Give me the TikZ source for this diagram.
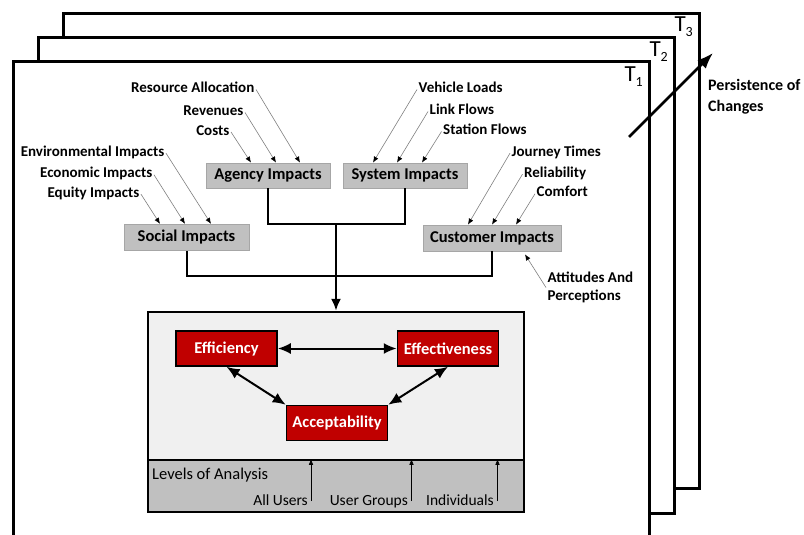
\documentclass[tikz,border=0pt]{standalone}
\usepackage{fontspec}
\setmainfont{Carlito}
\usetikzlibrary{arrows.meta,calc}
\definecolor{boxgray}{HTML}{C0C0C0}
\definecolor{boxedge}{HTML}{A6A6A6}
\definecolor{lightbg}{HTML}{F0F0F0}
\definecolor{levelgray}{HTML}{C0C0C0}
\definecolor{darkred}{HTML}{C00000}
\definecolor{thinline}{HTML}{808080}
\begin{document}
\begin{tikzpicture}[x=1pt,y=-1pt,
  frame/.style={draw=black,line width=3pt,fill=white,inner sep=0pt,anchor=north west},
  tlab/.style={anchor=base east,inner sep=0pt,font=\fontsize{23}{23}\selectfont},
  impact/.style={draw=boxedge,line width=0.8pt,fill=boxgray,inner sep=0pt,
    font=\fontsize{16.5}{18}\selectfont\bfseries},
  inlabel/.style={inner sep=1.5pt,text height=0.62em,text depth=0pt,yshift=-1.5pt,
    font=\fontsize{15}{17}\selectfont\bfseries},
  inarrow/.style={draw=thinline,line width=0.6pt,-{Latex[length=6pt,width=5pt,color=black]}},
  conn/.style={draw=black,line width=2pt},
  redbox/.style={draw=black,line width=1.5pt,fill=darkred,text=white,inner sep=0pt,
    minimum width=101pt,minimum height=35pt,font=\fontsize{16.5}{18}\selectfont\bfseries},
  dbl/.style={line width=2pt,{Latex[length=13pt,width=11pt]}-{Latex[length=13pt,width=11pt]}},
  levlabel/.style={anchor=base east,inner sep=0pt,font=\fontsize{15.5}{17}\selectfont},
  levarrow/.style={draw=black,line width=0.7pt,-{Latex[length=6pt,width=4.5pt]}}
]
\useasboundingbox (0,0) rectangle (804,535);
\clip (0,0) rectangle (804,535);

% stacked time frames
\node[frame,minimum width=636pt,minimum height=475pt] (f3) at (62,12) {};
\node[frame,minimum width=636pt,minimum height=476pt] (f2) at (37,36) {};
\node[frame,minimum width=636pt,minimum height=490pt] (f1) at (12,60) {};
\node[tlab] (t3) at ([xshift=-8pt,yshift=-20pt]f3.north east) {T\raisebox{-5pt}{\fontsize{14}{14}\selectfont 3}};
\node[tlab] (t2) at ([xshift=-8pt,yshift=-21pt]f2.north east) {T\raisebox{-5pt}{\fontsize{14}{14}\selectfont 2}};
\node[tlab] (t1) at ([xshift=-8pt,yshift=-22pt]f1.north east) {T\raisebox{-5pt}{\fontsize{14}{14}\selectfont 1}};

% persistence arrow
\coordinate (ps) at (629,137);
\coordinate (pe) at (713,53);
\draw[line width=2.5pt,-{Latex[length=16pt,width=12pt]}] (ps) -- (pe);
\node[anchor=west,align=left,inner sep=0pt,font=\fontsize{16}{21}\selectfont\bfseries] (pers) at (708,96.5) {Persistence of\\Changes};

% impact boxes
\node[impact,minimum width=124pt,minimum height=25pt] (agency) at (268,175.5) {Agency Impacts};
\node[impact,minimum width=124pt,minimum height=25pt] (system) at (405,175.5) {System Impacts};
\node[impact,minimum width=125pt,minimum height=26.5pt] (social) at (186.5,237.5) {Social Impacts};
\node[impact,minimum width=138pt,minimum height=26pt] (customer) at (492,238) {Customer Impacts};

% agency inputs
\node[inlabel,anchor=east] (resalloc) at (256,88) {Resource Allocation};
\node[inlabel,anchor=east] (revenues) at (245,111) {Revenues};
\node[inlabel,anchor=east] (costs) at (231,130.5) {Costs};
\draw[inarrow] (resalloc.east) -- ([xshift=32pt]agency.north);
\draw[inarrow] (revenues.east) -- ([xshift=8pt]agency.north);
\draw[inarrow] (costs.east) -- ([xshift=-17pt]agency.north);

% system inputs
\node[inlabel,anchor=west] (vehicle) at (417,88) {Vehicle Loads};
\node[inlabel,anchor=west] (link) at (428,110) {Link Flows};
\node[inlabel,anchor=west] (station) at (441.5,130) {Station Flows};
\draw[inarrow] (vehicle.west) -- ([xshift=-32pt]system.north);
\draw[inarrow] (link.west) -- ([xshift=-8pt]system.north);
\draw[inarrow] (station.west) -- ([xshift=17pt]system.north);

% social inputs
\node[inlabel,anchor=east] (env) at (166,151.7) {Environmental Impacts};
\node[inlabel,anchor=east] (econ) at (154,173.3) {Economic Impacts};
\node[inlabel,anchor=east] (equity) at (141,192.7) {Equity Impacts};
\draw[inarrow] (env.east) -- ([xshift=24.5pt]social.north);
\draw[inarrow] (econ.east) -- ([xshift=-1.5pt]social.north);
\draw[inarrow] (equity.east) -- ([xshift=-26.5pt]social.north);

% customer inputs
\node[inlabel,anchor=west] (journey) at (510,151.7) {Journey Times};
\node[inlabel,anchor=west] (reliab) at (522.5,172.7) {Reliability};
\node[inlabel,anchor=west] (comfort) at (535,192.3) {Comfort};
\draw[inarrow] (journey.west) -- ([xshift=-24pt]customer.north);
\draw[inarrow] (reliab.west) -- (customer.north);
\draw[inarrow] (comfort.west) -- ([xshift=24pt]customer.north);
\node[anchor=west,align=left,inner sep=1.5pt,font=\fontsize{15}{18}\selectfont\bfseries] (attitudes) at (546,287.5) {Attitudes And\\Perceptions};
\draw[inarrow] (attitudes.west) -- ([xshift=33pt,yshift=-3pt]customer.south);

% main analysis box
\node[draw=black,line width=2.5pt,fill=lightbg,minimum width=376pt,minimum height=200pt,inner sep=0pt] (mainbox) at (336,412) {};
\node[draw=black,line width=2.5pt,fill=levelgray,minimum width=376pt,minimum height=52pt,inner sep=0pt] (levels) at (336,486) {};

% connectors
\coordinate (jt) at (336,224);
\coordinate (jb) at (336,276);
\draw[conn] (agency.south) |- (jt) -| (system.south);
\draw[conn] (social.south) |- (jb) -| (customer.south);
\draw[conn,-{Latex[length=12pt,width=10pt]}] (jt) -- (mainbox.north);

% red boxes
\node[redbox] (eff) at (226.5,348.5) {Efficiency};
\node[redbox] (effect) at (448,348.5) {Effectiveness};
\node[redbox] (accept) at (337,423) {Acceptability};
\draw[dbl] (eff) -- (effect);
\draw[dbl] (eff.south) -- (accept.north west);
\draw[dbl] (effect.south) -- (accept.north east);

% levels of analysis
\node[anchor=base west,inner sep=0pt,font=\fontsize{16.5}{18}\selectfont] (loa) at (152,479) {Levels of Analysis};
\node[levlabel] (allusers) at (308,505) {All Users};
\node[levlabel] (groups) at (408,505) {User Groups};
\node[levlabel] (indiv) at (494,505) {Individuals};
\coordinate (au) at ([xshift=3pt,yshift=4pt]allusers.base east);
\coordinate (ug) at ([xshift=3.5pt,yshift=4pt]groups.base east);
\coordinate (iv) at ([xshift=3.5pt,yshift=4pt]indiv.base east);
\draw[levarrow] (au) -- (au |- levels.north);
\draw[levarrow] (ug) -- (ug |- levels.north);
\draw[levarrow] (iv) -- (iv |- levels.north);
\end{tikzpicture}
\end{document}
